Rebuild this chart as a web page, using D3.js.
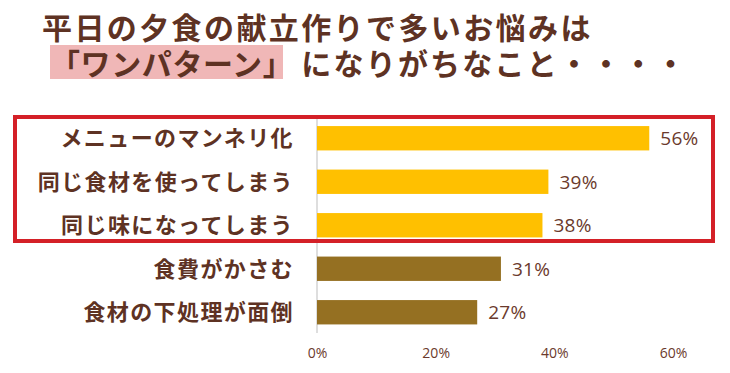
<!DOCTYPE html>
<html><head><meta charset="utf-8">
<script src="https://cdn.jsdelivr.net/npm/d3@7"></script>
<style>body{margin:0;background:#fff}svg{display:block}</style>
</head><body>
<svg id="c" width="730" height="373"></svg>
<script>
const categories = ["メニューのマンネリ化","同じ食材を使ってしまう","同じ味になってしまう","食費がかさむ","食材の下処理が面倒"];
const values = [56,39,38,31,27];
const highlighted = [true,true,true,false,false];
const tickValues = [0,20,40,60];
const titleLine1 = "平日の夕食の献立作りで多いお悩みは";
const titleHighlight = "「ワンパターン」";
const titleRest = "になりがちなこと・・・・";

const svg = d3.select("#c");
const font = "'Noto Sans CJK JP','Noto Sans',sans-serif";
const brown = "#5e3223";
const x = d3.scaleLinear().domain([0,60]).range([317,673]);
const y = d3.scaleBand().domain(categories).range([116.5,334]).paddingInner(0.44).paddingOuter(0.22);

// title
svg.append("rect").attr("x",50).attr("y",45).attr("width",233).attr("height",34).attr("fill","#f0b7b7");
svg.append("text").attr("x",42).attr("y",39).attr("font-family",font).attr("font-weight",700)
  .attr("font-size",30).attr("letter-spacing",2.4).attr("fill",brown).text(titleLine1);
const t2 = svg.append("text").attr("x",50).attr("y",75).attr("font-family",font).attr("font-weight",700)
  .attr("font-size",30).attr("letter-spacing",0.6).attr("fill",brown);
t2.append("tspan").text(titleHighlight);
t2.append("tspan").attr("dx",8).attr("letter-spacing",2.2).text(titleRest);

// axis line
svg.append("line").attr("x1",x(0)).attr("x2",x(0)).attr("y1",118).attr("y2",333)
  .attr("stroke","#d3d3d3").attr("stroke-width",1.5);

// bars
svg.selectAll("rect.bar").data(categories).join("rect").attr("class","bar")
  .attr("x",x(0)).attr("y",d=>y(d)).attr("height",y.bandwidth())
  .attr("width",(d,i)=>x(values[i])-x(0))
  .attr("fill",(d,i)=>highlighted[i]?"#ffc000":"#957022");

// value labels
svg.selectAll("text.val").data(categories).join("text").attr("class","val")
  .attr("x",(d,i)=>x(values[i])+11).attr("y",d=>y(d)+y.bandwidth()/2+7)
  .attr("font-family","'Open Sans',sans-serif").attr("font-size",19).attr("letter-spacing",0.3).attr("fill","#6b3a2c")
  .text((d,i)=>values[i]+"%");

// category labels
svg.selectAll("text.cat").data(categories).join("text").attr("class","cat")
  .attr("x",294).attr("y",d=>y(d)+y.bandwidth()/2+8).attr("text-anchor","end")
  .attr("font-family",font).attr("font-weight",700).attr("font-size",22).attr("letter-spacing",1.4)
  .attr("fill",brown).text(d=>d);

// x axis ticks
const ax = svg.append("g").attr("transform","translate(0,345)")
  .call(d3.axisBottom(x).tickValues(tickValues).tickFormat(d=>d+"%").tickSize(0));
ax.select(".domain").remove();
ax.selectAll("text").attr("font-family","'Open Sans',sans-serif").attr("font-size",14).attr("fill","#6b3a2c");

// red highlight box
svg.append("rect").attr("x",15).attr("y",117).attr("width",698).attr("height",124)
  .attr("fill","none").attr("stroke","#d42027").attr("stroke-width",4);
</script>
</body></html>
